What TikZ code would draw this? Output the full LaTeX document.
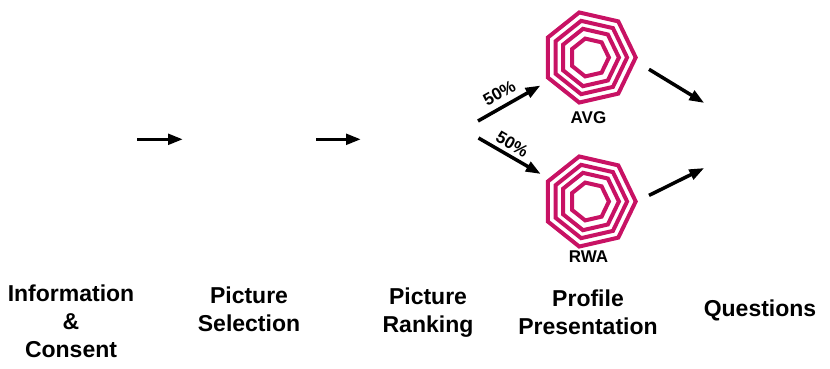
\documentclass[tikz,border=0pt]{standalone}
\usepackage{fontspec}
\setmainfont{Liberation Sans}
\usetikzlibrary{arrows.meta, positioning}
\definecolor{radarpink}{RGB}{200,18,100}
\tikzset{
  stagelabel/.style={
    font=\fontsize{23}{28}\selectfont\bfseries,
    align=center, inner sep=0pt
  },
  profilename/.style={
    font=\fontsize{17}{20}\selectfont\bfseries,
    inner sep=0pt, anchor=base
  },
  pctlabel/.style={
    font=\fontsize{17}{20}\selectfont\bfseries,
    sloped, above, inner sep=#1
  },
  steparrow/.style={-{Triangle[length=15pt,width=10.5pt]}, line width=3.5pt},
  radarring/.style={draw=radarpink, line width=4pt, line join=miter},
}

\begin{document}
\begin{tikzpicture}[x=1pt, y=-1pt]
  \useasboundingbox (0,0) rectangle (830,369);
  % stage names
  \node[stagelabel] (info) at (71,321) {Information\\\&\\Consent};
  \node[stagelabel] (select) at (249,309.75) {Picture\\Selection};
  \node[stagelabel] (rank) at (428,312.2) {Picture\\Ranking};
  \node[stagelabel] (profile) at (588,312) {Profile\\Presentation};
  \node[stagelabel] (quest) at (760,310.3) {Questions};
  % arrow ends
  \coordinate (infoout) at (137,139.3);
  \coordinate (selectin) at (183,139.3);
  \coordinate (selectout) at (316,139.3);
  \coordinate (rankin) at (361,139.3);
  \coordinate (rankup) at (478,121);
  \coordinate (rankdown) at (478.5,138);
  \coordinate (avgin) at (540.5,85.5);
  \coordinate (rwain) at (540.8,174);
  \coordinate (avgout) at (649,69.3);
  \coordinate (rwaout) at (649,195.4);
  \coordinate (questup) at (704.3,103);
  \coordinate (questdown) at (704.3,168);
  % profiles
  \coordinate (avg) at (589.5,57.5);
  \coordinate (rwa) at (589.5,201.5);
  \foreach \p in {avg,rwa}
    \foreach \r in {46.2,37.6,29.4,19.4}
      \draw[radarring, shift={(\p)}] (0:\r)
        \foreach \k in {1,...,6} {-- (\k*360/7:\r)} -- cycle;
  \node[profilename] (avglabel) at (588.5,123.4) {AVG};
  \node[profilename] (rwalabel) at (588.5,262) {RWA};
  % flow
  \draw[steparrow] (infoout) -- (selectin);
  \draw[steparrow] (selectout) -- (rankin);
  \draw[steparrow] (rankup) -- node[pctlabel=6pt, pos=0.45] (avgpct) {50\%} (avgin);
  \draw[steparrow] (rankdown) -- node[pctlabel=3.6pt, pos=0.45] (rwapct) {50\%} (rwain);
  \draw[steparrow] (avgout) -- (questup);
  \draw[steparrow] (rwaout) -- (questdown);
\end{tikzpicture}
\end{document}
